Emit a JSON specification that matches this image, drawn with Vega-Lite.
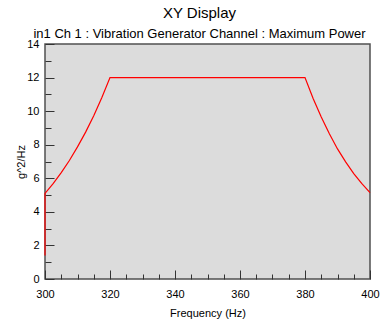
{
  "$schema": "https://vega.github.io/schema/vega-lite/v6.json",
  "autosize": {"type": "none"},
  "width": 325,
  "height": 235,
  "padding": {"left": 45, "top": 44, "right": 10, "bottom": 43},
  "background": "white",
  "title": {
    "text": "XY Display",
    "subtitle": "in1  Ch 1 : Vibration Generator Channel : Maximum Power",
    "anchor": "middle",
    "frame": "group",
    "dx": -8,
    "offset": -3,
    "font": "Liberation Sans",
    "fontSize": 15,
    "fontWeight": "normal",
    "color": "#000000",
    "subtitleFont": "Liberation Sans",
    "subtitleFontSize": 13,
    "subtitleColor": "#000000",
    "subtitlePadding": 7
  },
  "config": {
    "view": {"fill": "#dcdcdc", "stroke": "#505050", "strokeWidth": 1.5},
    "axis": {
      "labelFont": "Liberation Sans",
      "labelFontSize": 11,
      "labelColor": "#000000",
      "titleFont": "Liberation Sans",
      "titleFontSize": 11,
      "titleFontWeight": "normal",
      "titleColor": "#000000",
      "domain": false,
      "grid": false,
      "ticks": true,
      "tickColor": "#333333",
      "tickWidth": 1,
      "labelFlush": false,
      "labelOverlap": false,
      "zindex": 1
    }
  },
  "data": {
    "values": [
      {"f": 300, "v": 1.4, "o": 0},
      {"f": 300, "v": 5.1, "o": 1},
      {"f": 302.5, "v": 5.68, "o": 2},
      {"f": 305, "v": 6.34, "o": 3},
      {"f": 307.5, "v": 7.06, "o": 4},
      {"f": 310, "v": 7.87, "o": 5},
      {"f": 312.5, "v": 8.75, "o": 6},
      {"f": 315, "v": 9.73, "o": 7},
      {"f": 317.5, "v": 10.81, "o": 8},
      {"f": 320, "v": 12, "o": 9},
      {"f": 380, "v": 12, "o": 10},
      {"f": 382.5, "v": 10.75, "o": 11},
      {"f": 385, "v": 9.65, "o": 12},
      {"f": 387.5, "v": 8.65, "o": 13},
      {"f": 390, "v": 7.75, "o": 14},
      {"f": 392.5, "v": 6.98, "o": 15},
      {"f": 395, "v": 6.28, "o": 16},
      {"f": 397.5, "v": 5.68, "o": 17},
      {"f": 400, "v": 5.15, "o": 18}
    ]
  },
  "mark": {"type": "line", "color": "#ff0000", "strokeWidth": 1.2},
  "encoding": {
    "x": {
      "field": "f",
      "type": "quantitative",
      "scale": {"domain": [300, 400], "nice": false, "zero": false},
      "axis": {
        "title": "Frequency (Hz)",
        "format": "d",
        "values": [300,305,310,315,320,325,330,335,340,345,350,355,360,365,370,375,380,385,390,395,400],
        "labelExpr": "datum.value % 20 === 0 ? datum.label : ''",
        "tickSize": {"condition": {"test": "datum.value % 20 === 0", "value": -9}, "value": -5},
        "labelPadding": 18,
        "titlePadding": 4
      }
    },
    "y": {
      "field": "v",
      "type": "quantitative",
      "scale": {"domain": [0, 14], "nice": false},
      "axis": {
        "title": "g^2/Hz",
        "format": "d",
        "values": [0,0.5,1,1.5,2,2.5,3,3.5,4,4.5,5,5.5,6,6.5,7,7.5,8,8.5,9,9.5,10,10.5,11,11.5,12,12.5,13,13.5,14],
        "labelExpr": "datum.value % 2 === 0 ? datum.label : ''",
        "tickSize": {"condition": {"test": "datum.value % 2 === 0", "value": -9}, "value": -6},
        "labelPadding": 15,
        "titlePadding": 0
      }
    },
    "order": {"field": "o", "type": "quantitative"}
  }
}
